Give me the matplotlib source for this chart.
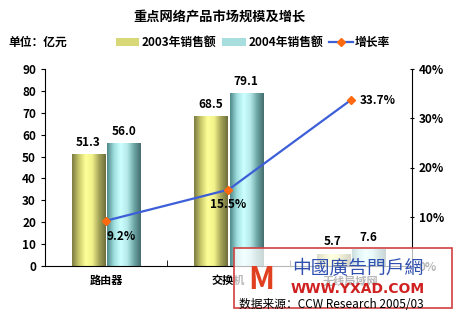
import numpy as np
import matplotlib
matplotlib.use("Agg")
import matplotlib.pyplot as plt
from matplotlib.lines import Line2D
from matplotlib.patches import Patch, Rectangle
from matplotlib.colors import LinearSegmentedColormap

plt.rcParams['font.family'] = ['Noto Sans CJK SC', 'DejaVu Sans']

categories = ["路由器", "交换机", "无线局域网"]
sales_2003 = [51.3, 68.5, 5.7]
sales_2004 = [56.0, 79.1, 7.6]
growth = [9.2, 15.5, 33.7]

fig = plt.figure(figsize=(4.58, 3.16), dpi=100)
ax = fig.add_axes([45 / 458, 50 / 316, 367 / 458, 197 / 316])
ax2 = ax.twinx()

x = np.arange(len(categories))
w = 0.27
gap = 0.01

cmap03 = LinearSegmentedColormap.from_list("c03", ["#7d7d45", "#c9c96a", "#ffff99", "#f2f28a", "#a5a55a", "#6e6e3c"])
cmap04 = LinearSegmentedColormap.from_list("c04", ["#4f8a8a", "#9fdede", "#ccffff", "#b6eaea", "#6fa8a8", "#466e6e"])
grad = np.linspace(0, 1, 64).reshape(1, -1)

for vals, off, cm in [(sales_2003, -w / 2 - gap, cmap03), (sales_2004, w / 2 + gap, cmap04)]:
    bars = ax.bar(x + off, vals, w, color="none", edgecolor="none", zorder=2)
    for b, v in zip(bars, vals):
        bx, by = b.get_x(), b.get_y()
        im = ax.imshow(grad, cmap=cm, aspect="auto", extent=(bx, bx + b.get_width(), by, by + b.get_height()), zorder=2)
        im.set_clip_path(b)
        ax.text(b.get_x() + b.get_width() / 2, v + 2.3, f"{v:.1f}", ha="center", va="bottom",
                fontsize=8.5, fontweight="bold", zorder=4)

ax.set_xlim(-0.5, 2.5)
ax.set_ylim(0, 90)
ax.set_yticks(range(0, 91, 10))
ax.set_xticks(x)
ax.set_xticklabels(categories, fontsize=8, fontweight="bold")
ax.set_xticks([0.5, 1.5], minor=True)
ax.tick_params(axis="x", which="major", length=0, pad=6)
ax.tick_params(axis="x", which="minor", length=4, direction="in")
ax.tick_params(axis="y", labelsize=8.5, length=3, direction="out")
for t in ax.get_yticklabels():
    t.set_fontweight("bold")
ax.spines["top"].set_visible(False)
ax.spines["right"].set_visible(False)

ax2.plot(x, growth, color="#3c5fd8", lw=1.6, marker="D", ms=4.5, mfc="#ff6a10", mec="#ff6a10", zorder=5)
ax2.set_ylim(0, 40)
ax2.set_yticks([0, 10, 20, 30, 40])
ax2.set_yticklabels([f"{v}%" for v in [0, 10, 20, 30, 40]], fontsize=8.5, fontweight="bold")
ax2.tick_params(axis="y", length=3, direction="inout")
ax2.spines["top"].set_visible(False)
ax2.spines["left"].set_visible(False)
ax2.spines["bottom"].set_visible(False)
label_pos = [(0.12, -3.3, "center"), (0.0, -3.0, "center"), (0.07, 0, "left")]
for xi, g, (dx, dy, ha) in zip(x, growth, label_pos):
    ax2.text(xi + dx, g + dy, f"{g}%", ha=ha, va="center", fontsize=8.5, fontweight="bold", zorder=6)

fig.text(0.48, 0.945, "重点网络产品市场规模及增长", ha="center", va="center", fontsize=9.5, fontweight="bold")
fig.text(8 / 458, 0.865, "单位：亿元", ha="left", va="center", fontsize=8.5, fontweight="bold")

handles = [Patch(facecolor="#d8d878", edgecolor="none"),
           Patch(facecolor="#a8dede", edgecolor="none"),
           Line2D([0], [0], color="#3c5fd8", lw=1.6, marker="D", ms=4, mfc="#ff6a10", mec="#ff6a10")]
fig.legend(handles, ["2003年销售额", "2004年销售额", "增长率"], loc="center", bbox_to_anchor=(253 / 458, 0.865),
           ncol=3, frameon=False, handlelength=2.0, handleheight=0.6, handletextpad=0.2,
           columnspacing=0.5, prop={"weight": "bold", "size": 8.5})

# watermark box at the lower right
wx0, wy0, ww, wh = 234 / 458, 8 / 316, 218 / 458, 60 / 316
fig.patches.append(Rectangle((wx0, wy0), ww, wh, transform=fig.transFigure, facecolor=(1, 1, 1, 0.72),
                             edgecolor="#d04040", lw=1.2, zorder=10))
fig.text(wx0 + 0.06, wy0 + 0.09, "M", color="#e04020", fontsize=22, fontweight="bold", style="italic",
         ha="center", va="center", zorder=11)
fig.text(wx0 + 0.27, wy0 + 0.125, "中國廣告門戶網", color="#3050b0", fontsize=13.5, ha="center", va="center", zorder=11)
fig.text(wx0 + 0.27, wy0 + 0.06, "WWW.YXAD.COM", color="#d02020", fontsize=10, fontweight="bold",
         ha="center", va="center", zorder=11, family="DejaVu Sans")
fig.text(wx0 + 0.01, wy0 + 0.012, "数据来源：CCW Research 2005/03", color="black", fontsize=8.5,
         ha="left", va="center", zorder=11)

fig.savefig("out.png", dpi=100)
